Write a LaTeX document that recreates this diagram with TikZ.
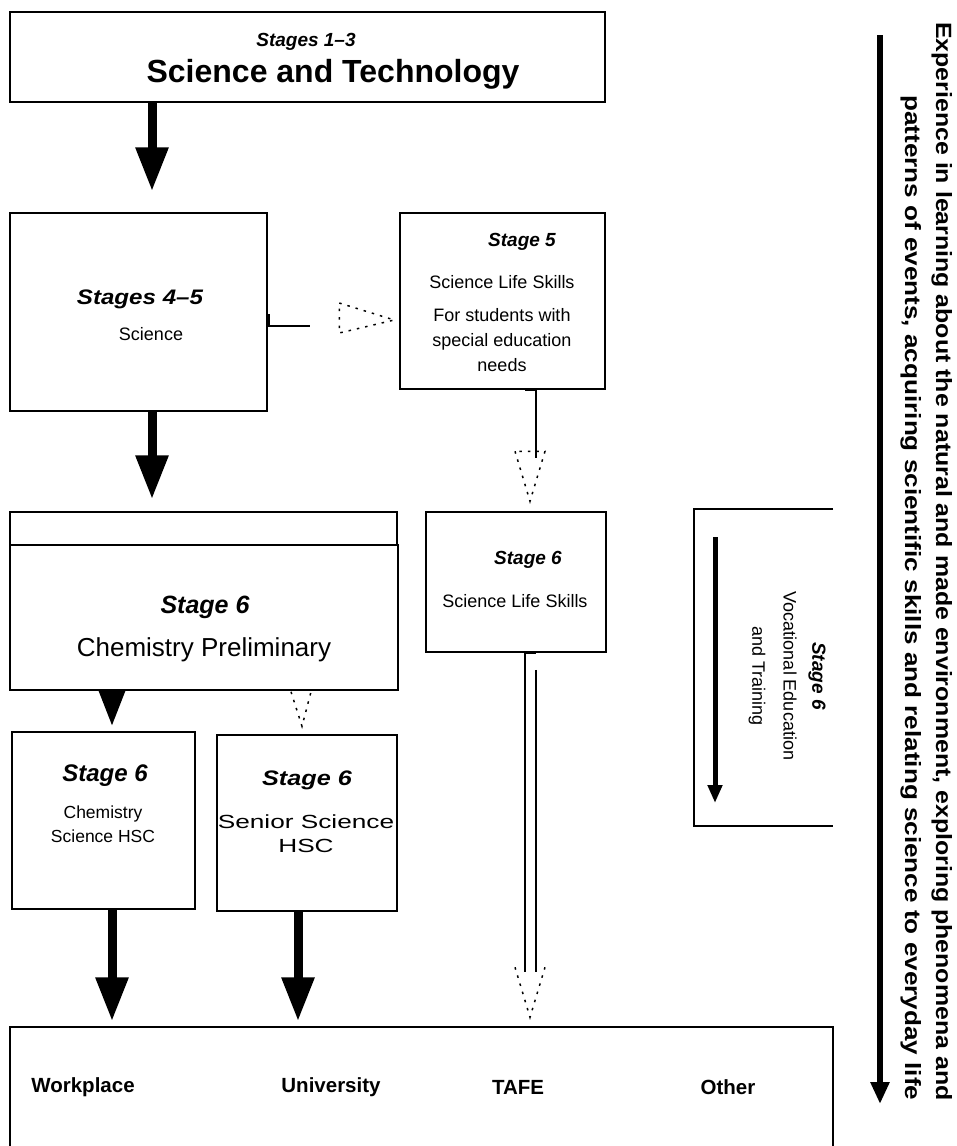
\documentclass[tikz,border=0pt]{standalone}
\usepackage{fontspec}
\usepackage{graphicx}
\setmainfont{Liberation Sans}
\usetikzlibrary{arrows.meta,calc}
\begin{document}
\begin{tikzpicture}[x=1pt,y=-1pt,
  box/.style={draw, line width=1.5pt, inner sep=0pt},
  txt/.style={inner sep=0pt, align=center},
  stg/.style={txt, font=\fontsize{19}{22}\selectfont\bfseries\itshape},
  stgbig/.style={txt, font=\fontsize{25}{28}\selectfont\bfseries\itshape},
  reg/.style={txt, font=\fontsize{18}{25}\selectfont},
  regbig/.style={txt, font=\fontsize{26}{29}\selectfont},
  dst/.style={txt, font=\fontsize{20.5}{22}\selectfont\bfseries},
  bigarrow/.style={line width=9pt, -{Triangle[length=44pt,width=31pt]}},
  midarrow/.style={line width=9pt, -{Triangle[length=38pt,width=25pt]}},
  conn/.style={line width=1.5pt},
  dhead/.style={line width=1.5pt, dash pattern=on 2.5pt off 6pt}
]
\useasboundingbox (0,0) rectangle (957,1146);

% boxes
\node[box, minimum width=595pt, minimum height=90pt] (top) at (307.5,57) {};
\node[box, minimum width=257pt, minimum height=198pt] (s45) at (138.5,312) {};
\node[box, minimum width=205pt, minimum height=176pt] (s5) at (502.5,301) {};
\node[box, minimum width=387pt, minimum height=33pt] (pretop) at (203.5,528.5) {};
\node[box, minimum width=388pt, minimum height=145pt] (pre) at (204,617.5) {};
\node[box, minimum width=180pt, minimum height=140pt] (sls) at (516,582) {};
\node[box, minimum width=183pt, minimum height=177pt] (chsc) at (103.5,820.5) {};
\node[box, minimum width=180pt, minimum height=176pt] (ssc) at (307,823) {};
\node[box, minimum width=823pt, minimum height=140pt] (dest) at (421.5,1097) {};

% open VET box
\coordinate (vtr) at (833,509);
\coordinate (vtl) at (694,509);
\coordinate (vbl) at (694,826);
\coordinate (vbr) at (833,826);
\draw[conn] (vtr) -- (vtl) -- (vbl) -- (vbr);

% texts
\node[stg] (t13) at (306,42) {Stages 1--3};
\node[txt, font=\fontsize{32}{36}\selectfont\bfseries] (tst) at (333,74) {Science and Technology};

\node[txt, font=\fontsize{21}{24}\selectfont\bfseries\itshape] (t45) at (140,299) {\scalebox{1.15}[1]{Stages 4--5}};
\node[reg] (t45b) at (151,334) {Science};

\node[stg] (t5) at (522,242) {Stage 5};
\node[reg] (t5b) at (502,282) {Science Life Skills};
\node[reg] (t5c) at (502,340) {For students with\\special education\\needs};

\node[stg] (ts6) at (528,560) {Stage 6};
\node[reg] (ts6b) at (515,601) {Science Life Skills};

\node[stgbig] (tp) at (205,607) {Stage 6};
\node[regbig] (tpb) at (204,650) {Chemistry Preliminary};

\node[txt, font=\fontsize{24}{26}\selectfont\bfseries\itshape] (tc) at (105,776) {Stage 6};
\node[txt, font=\fontsize{17.5}{24}\selectfont] (tcb) at (103,824) {Chemistry\\Science HSC};

\node[txt, font=\fontsize{21}{24}\selectfont\bfseries\itshape] (tsn) at (307,780) {\scalebox{1.2}[1]{Stage 6}};
\node[txt, font=\fontsize{19}{25}\selectfont] (tsnb) at (306,822) {\scalebox{1.38}[1]{Senior Science}};
\node[txt, font=\fontsize{19}{25}\selectfont] (tsnc) at (306,846) {\scalebox{1.38}[1]{HSC}};

\node[stg, rotate=-90] (tv) at (817,676) {Stage 6};
\node[reg, rotate=-90] (tvb) at (790,676) {Vocational Education};
\node[reg, rotate=-90] (tvc) at (757,676) {and Training};

\node[dst] (w1) at (83,1087) {Workplace};
\node[dst] (w2) at (331,1087) {University};
\node[dst] (w3) at (518,1087) {TAFE};
\node[dst] (w4) at (728,1087) {Other};

\node[inner sep=0pt, rotate=-90, anchor=base west] (e1) at (936,22)
  {\resizebox{1078pt}{16pt}{\bfseries Experience in learning about the natural and made environment, exploring phenomena and}};
\node[inner sep=0pt, rotate=-90, anchor=base west] (e2) at (905,95)
  {\resizebox{1005pt}{16pt}{\bfseries patterns of events, acquiring scientific skills and relating science to everyday life}};

% column x coordinates
\coordinate (xa) at (152,0);
\coordinate (xb) at (112,0);
\coordinate (xc) at (298,0);

% thick arrows
\draw[bigarrow] (top.south -| xa) -- ($(s45.north -| xa)+(0,-21)$);
\draw[bigarrow] (s45.south -| xa) -- ($(pretop.north -| xa)+(0,-12)$);
\draw[midarrow] (pre.south -| xb) -- ($(chsc.north -| xb)+(0,-4)$);
\draw[bigarrow] (chsc.south -| xb) -- ($(dest.north -| xb)+(0,-5)$);
\draw[bigarrow] (ssc.south -| xc) -- ($(dest.north -| xc)+(0,-5)$);

% Stages 4-5 -> Stage 5 (dashed)
\draw[conn] ($(s45.east)+(1,2)$) -- ++(0,12) -- ++(41,0);
\draw[dhead] ($(s5.west)+(-60,2)$) -- ($(s5.west)+(-5,19)$) -- ($(s5.west)+(-60,32)$) -- cycle;

% Stage 5 -> Stage 6 Science Life Skills (dashed)
\coordinate (xd) at (536,0);
\draw[conn] (s5.south -| xd) -- ++(0,68);
\draw[line width=3pt] ($(s5.south -| xd)+(-11,0)$) -- (s5.south -| xd);
\draw[dhead] ($(sls.north -| xd)+(-21,-60)$) -- ($(sls.north -| xd)+(-6,-10)$) -- ($(sls.north -| xd)+(9,-60)$) -- cycle;

% Chemistry Preliminary -> Senior Science (dashed)
\coordinate (xe) at (301,0);
\draw[dhead] ($(pre.south -| xe)+(-10,1)$) -- ($(ssc.north -| xe)+(1,-8)$) -- ($(pre.south -| xe)+(10,1)$);

% Stage 6 Science Life Skills -> destinations (hollow)
\coordinate (xf) at (525,0);
\coordinate (xg) at (536,0);
\draw[conn] (sls.south -| xf) -- ($(dest.north -| xf)+(0,-54)$);
\draw[conn] ($(sls.south -| xg)+(0,17)$) -- ($(dest.north -| xg)+(0,-54)$);
\draw[line width=3pt] (sls.south -| xf) -- (sls.south -| xg);
\draw[dhead] ($(dest.north -| xf)+(-10,-59)$) -- ($(dest.north -| xf)+(5,-9)$) -- ($(dest.north -| xf)+(20,-59)$);

% VET arrow
\coordinate (v1) at (715,537);
\coordinate (v2) at (715,803);
\draw[line width=5pt, -{Triangle[length=18pt,width=14pt]}] (v1) -- (v2);

% right-hand arrow
\coordinate (r1) at (880,35);
\coordinate (r2) at (880,1104);
\draw[line width=6pt, -{Triangle[length=22pt,width=18pt]}] (r1) -- (r2);
\end{tikzpicture}
\end{document}
